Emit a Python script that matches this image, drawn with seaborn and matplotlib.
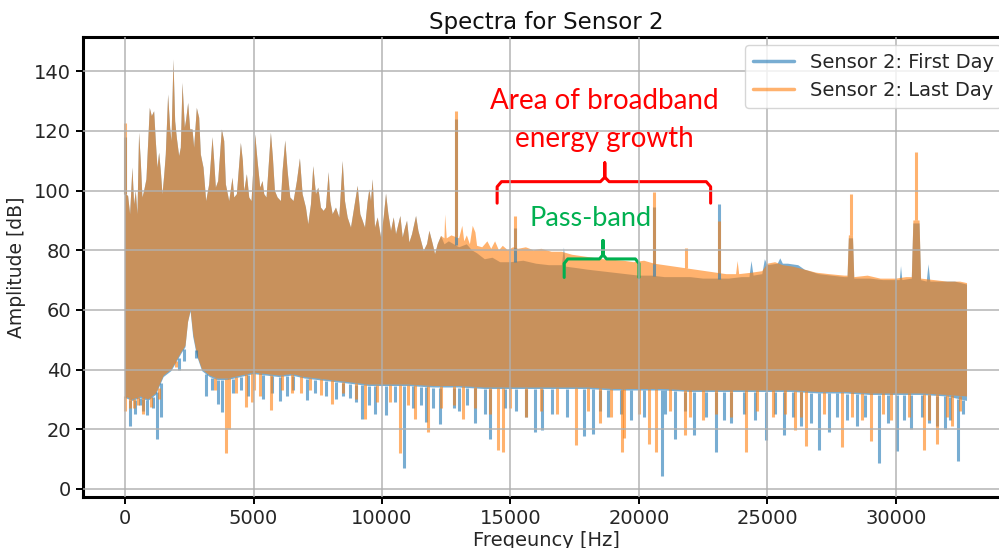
import numpy as np
import pandas as pd
import seaborn as sns
import matplotlib
matplotlib.use('Agg')
import matplotlib.pyplot as plt
from matplotlib.lines import Line2D

# ---- values ----
# upper edge of the band below ~12.4 kHz (both days nearly identical)
low_top_freq = [0, 26, 117, 195, 286, 351, 416, 481, 545, 610,
                675, 740, 831, 961, 1039, 1130, 1195, 1260, 1325, 1390,
                1455, 1520, 1584, 1675, 1753, 1805, 1883, 1948, 2013, 2104,
                2169, 2234, 2325, 2377, 2455, 2532, 2623, 2688, 2792, 2883,
                2948, 3052, 3156, 3273, 3403, 3468, 3532, 3623, 3766, 3857,
                3922, 4052, 4182, 4247, 4351, 4506, 4584, 4636, 4740, 4831,
                4922, 5065, 5156, 5260, 5351, 5416, 5506, 5675, 5753, 5831,
                5935, 6065, 6130, 6234, 6325, 6429, 6558, 6688, 6805, 6909,
                7039, 7130, 7234, 7325, 7429, 7519, 7623, 7727, 7818, 7922,
                7987, 8078, 8208, 8338, 8468, 8558, 8662, 8792, 8896, 9052,
                9156, 9247, 9338, 9442, 9506, 9571, 9636, 9727, 9831, 9961,
                10065, 10156, 10247, 10351, 10455, 10545, 10636, 10714, 10805, 10896,
                10974, 11065, 11169, 11325, 11416, 11519, 11623, 11753, 11844, 11974,
                12065, 12169, 12299]
low_top_amp = [98.8, 98.8, 98.2, 92.1, 107.7, 95.4, 99.9, 92.1, 119.4, 109.9,
               97.7, 99.9, 103.8, 127.7, 125, 126.6, 116.6, 107.7, 112.7, 106.6,
               98.8, 104.9, 112.1, 132.2, 121.1, 116.6, 143.9, 123.3, 117.7, 111.6,
               114.4, 136.1, 121.1, 123.8, 129.4, 120.5, 120.5, 114.4, 127.7, 124.4,
               112.1, 107.7, 96.5, 102.1, 117.9, 109.9, 101, 103.2, 120.5, 116.6,
               102.1, 96.5, 104.3, 97.7, 98.8, 116.0, 109.9, 99.9, 105.5, 97.7,
               96.5, 118.8, 109.9, 101, 103.2, 98.8, 97.7, 119.4, 111, 99.9,
               97.7, 96.5, 106.6, 116.8, 106.6, 97.7, 96.5, 103.2, 110.8, 98.8,
               94.3, 88.7, 95.4, 108.2, 98.8, 101, 94.3, 93.2, 94.3, 106.2,
               96.5, 92.1, 94.3, 91, 109.9, 96.5, 91, 87.6, 93.2, 101.6,
               92.1, 89.9, 87.6, 96.5, 100.4, 96.5, 103.8, 87.6, 91, 84.3,
               91, 99, 92.1, 86.5, 91, 85.4, 88.7, 91.5, 84.3, 87.6,
               89.9, 82.6, 85.4, 91.5, 86.5, 83.2, 79.8, 82.1, 86.5, 82.1,
               78.7, 82.1, 84.8]

# upper edge above 12.4 kHz, per day
first_top_freq = [12430, 12600, 12800, 13000, 13300, 13500, 13700, 14000, 14300, 14600,
                  15000, 15500, 16000, 16500, 17000, 17080, 17160, 17600, 18000, 18500,
                  19000, 19500, 20000, 20500, 21000, 21500, 22000, 22500, 23000, 23500,
                  24000, 24300, 24380, 24460, 24800, 24900, 25000, 25400, 25500, 25600,
                  25800, 26200, 26450, 27000, 27500, 28000, 28120, 28170, 28330, 28380,
                  28500, 29000, 29500, 30000, 30150, 30200, 30250, 30620, 30680, 30920,
                  30980, 31200, 31270, 31340, 31800, 32300, 32768]
first_top_amp = [82, 83, 82, 81, 82, 80, 79, 77, 77.5, 76,
                 76, 76.5, 75.5, 75, 75, 80.9, 74.5, 74, 73.5, 73,
                 72.5, 72, 71.5, 71.5, 71, 71, 71, 70.5, 70.5, 70.5,
                 71, 71, 76.4, 71.5, 72, 77, 75, 75.5, 77.3, 75.5,
                 75.5, 75, 73.5, 72, 71.5, 71, 71, 84, 84, 70.5,
                 70.5, 70.5, 70, 70, 70, 74.7, 70, 70.5, 89, 89,
                 70, 69.5, 75.3, 69.5, 69.5, 69.5, 68.5]
last_top_freq = [12430, 12456, 12520, 12700, 13000, 13125, 13200, 13300, 13420, 13530,
                 13634, 13700, 13900, 14100, 14250, 14400, 14550, 14700, 14900, 15100,
                 15300, 15600, 15900, 16200, 16600, 17000, 17400, 17800, 18200, 18600,
                 19000, 19400, 19800, 20200, 20600, 21000, 21400, 21800, 22200, 22600,
                 23000, 23400, 23780, 23840, 23900, 24400, 24800, 25000, 25300, 25600,
                 26000, 26450, 26900, 27400, 28000, 28120, 28170, 28330, 28380, 28900,
                 29400, 30000, 30400, 30620, 30680, 30920, 30980, 31500, 32000, 32500,
                 32768]
last_top_amp = [84, 92, 84, 85, 84, 88.2, 83, 85, 82, 88.2,
                86, 81.5, 81, 83, 80.5, 83, 80, 81.5, 80, 81,
                80.5, 81, 80, 80.5, 79.5, 79.5, 78.5, 78, 77.5, 77,
                76.8, 76.5, 76, 76.5, 75.5, 75, 74.5, 74, 73.5, 73,
                72.5, 72, 72, 76.4, 72, 72.5, 73, 75.5, 76, 75,
                74.5, 73.5, 72.5, 72, 71.5, 71.5, 85, 85, 71, 71.5,
                70.5, 70.5, 71, 71, 90, 90, 70.5, 70, 69.5, 69.5,
                69]

# lower edge of the band
bottom_freq = [0, 300, 600, 900, 1200, 1500, 1800, 2000, 2200, 2350,
               2450, 2550, 2650, 2800, 3000, 3300, 3600, 4000, 4500, 5000,
               5500, 6000, 6500, 7000, 7500, 8000, 8500, 9000, 9500, 10000,
               11000, 12000, 13000, 14000, 15000, 16000, 17000, 18000, 19000, 20000,
               21000, 22000, 23000, 24000, 25000, 26000, 27000, 28000, 29000, 30000,
               31000, 32000, 32768]
first_bottom = [30.5, 29.5, 30.5, 29.5, 31.5, 37.5, 39.5, 42.5, 45.5, 47.5,
                56, 59.5, 51, 44.5, 39.5, 37.5, 36.5, 36.5, 37.5, 38.5,
                38, 37.5, 38, 37, 36.5, 36, 35.5, 35, 34.5, 34.5,
                34.5, 34, 34, 33.5, 33.5, 33.5, 33.5, 33.5, 33, 33,
                33, 32.5, 32.5, 32.5, 32.5, 32.5, 32, 32, 31.5, 31.5,
                31.5, 31, 29.5]
last_bottom = [31, 30, 31, 30, 32, 38, 40, 43, 46, 48,
               56, 60, 52, 45, 40, 38, 37, 37, 38, 39,
               38.5, 38, 38.5, 37.5, 37, 36.5, 36, 35.5, 35, 35,
               35, 34.5, 34.5, 34, 34, 34, 34, 34, 33.5, 33.5,
               33.5, 33, 33, 33, 33, 33, 32.5, 32.5, 32, 32,
               32, 31.5, 31]

# thin tall lines sticking out of the band
first_spike_freq = [0, 12870, 15175, 20580, 23130]
first_spike_amp = [118, 124, 87.6, 94.4, 95.5]
last_spike_freq = [0, 12870, 15175, 20580, 21850, 23130, 28270, 30800]
last_spike_amp = [122.7, 126.8, 91.6, 99.4, 80.9, 89.9, 98.8, 112.8]

# dips below the band
first_dip_freq = [195, 400, 583, 840, 1256, 1400, 3134, 3626, 3755, 4200,
                  5374, 6022, 6540, 7084, 8223, 8741, 9234, 9713, 10166, 10852,
                  11200, 11694, 12240, 12800, 13636, 14206, 14800, 15935, 16220, 17880,
                  18200, 18800, 19700, 20900, 21390, 22150, 22990, 23600, 24960, 25640,
                  26300, 27020, 27400, 28500, 29350, 30030, 30600, 31300, 31900, 32400,
                  700, 1100, 2100, 2300, 2750, 3400, 4500, 4800, 5700, 6300,
                  7400, 7800, 8500, 9000, 9500, 10500, 11500, 12000, 13000, 13300,
                  14000, 15200, 15600, 16600, 17200, 18500, 19300, 20200, 21000, 21800,
                  22600, 23300, 24100, 24500, 25300, 26000, 26700, 27700, 28100, 28800,
                  29700, 30300, 31000, 31600, 32100, 32600]
first_dip_amp = [21, 25, 28, 24.7, 16.9, 24, 31.3, 28.6, 25.8, 32,
                 30.2, 29.5, 33, 29.7, 30, 30.5, 23.6, 25.2, 24.7, 6.9,
                 27, 22.4, 21.9, 27, 22, 16.9, 27, 19.1, 19.7, 17.7,
                 18.5, 24, 23, 4.5, 16.9, 18, 12.4, 22, 16.3, 18.2,
                 21, 13.2, 19, 21, 8.8, 12.7, 20, 22, 20, 9.3,
                 26, 27, 40, 43, 44, 33, 33, 31, 32, 31,
                 32, 31, 31, 29, 28, 29, 28, 27, 26, 28,
                 25, 26, 24, 25, 24, 26, 25, 24, 25, 26,
                 24, 23, 25, 23, 25, 24, 22, 24, 23, 24,
                 22, 23, 24, 21, 23, 25]
last_dip_freq = [0, 330, 700, 1000, 3911, 4053, 4688, 4921, 5245, 5660,
                 6864, 7640, 8055, 9324, 10684, 11292, 11785, 13143, 14500, 14700,
                 15600, 17560, 18500, 19340, 19400, 20380, 20680, 21780, 22500, 24150,
                 25200, 26070, 26500, 27890, 29030, 29800, 31090, 31610, 32200,
                 200, 500, 1300, 2000, 3500, 4300, 5000, 6100, 6500, 7200,
                 8500, 9000, 9800, 10300, 11000, 12300, 12800, 13600, 14200, 15000,
                 16200, 16800, 18000, 18900, 20000, 21200, 22000, 23000, 23600, 24600,
                 25700, 26300, 27200, 28300, 28700, 29500, 30500, 31300, 32000, 32500]
last_dip_amp = [26, 27, 25, 27.4, 12, 20.2, 27.4, 29, 31, 26.3,
                32, 31.5, 28.6, 23.6, 11.9, 23.3, 19.1, 23.6, 13, 12.4,
                24, 14.7, 22, 12.4, 17, 15.2, 12.4, 18, 23, 12.4,
                24, 19.9, 14.3, 13.9, 16, 23, 13, 15.2, 21,
                27, 28, 30, 41, 33, 32, 33, 33, 32, 33,
                32, 30, 29, 29, 28, 27, 28, 27, 25, 27,
                26, 25, 26, 24, 25, 26, 24, 25, 24, 26,
                25, 24, 25, 24, 23, 25, 24, 23, 24, 26]

labels = ['Sensor 2: First Day', 'Sensor 2: Last Day']
colors = ['#1f77b4', '#ff7f0e']


def sticks(top_f, top_a, bot_a, spike_f, spike_a, dip_f, dip_a):
    # every spike / dip is a short vertical segment starting on the band edge
    rows = []
    unit = 0
    base = np.interp(spike_f, top_f, top_a)
    for f, b, a in zip(spike_f, base, spike_a):
        rows += [(unit, f, b), (unit, f, a)]
        unit += 1
    base = np.interp(dip_f, bottom_freq, bot_a)
    for f, b, a in zip(dip_f, base, dip_a):
        rows += [(unit, f, b), (unit, f, a)]
        unit += 1
    return pd.DataFrame(rows, columns=['unit', 'freq', 'amp'])


sns.set_theme(style='ticks')
plt.rcParams['font.family'] = ['DejaVu Sans']

fig = plt.figure(figsize=(9.99, 5.48), dpi=100)
ax = fig.add_axes([0.0831, 0.0931, 0.927, 0.8394])

series = [
    (first_top_freq, first_top_amp, first_bottom, first_spike_freq, first_spike_amp,
     first_dip_freq, first_dip_amp),
    (last_top_freq, last_top_amp, last_bottom, last_spike_freq, last_spike_amp,
     last_dip_freq, last_dip_amp),
]
for (tf, ta, bot, sf, sa, dfq, da), c in zip(series, colors):
    top_f = low_top_freq + tf
    top_a = low_top_amp + ta
    ax.fill(top_f + bottom_freq[::-1], top_a + bot[::-1], color=c, alpha=0.6, lw=0)
    st = sticks(top_f, top_a, bot, sf, sa, dfq, da)
    sns.lineplot(data=st, x='freq', y='amp', units='unit', estimator=None, sort=False,
                 color=c, alpha=0.6, lw=2.2, solid_capstyle='butt', ax=ax)

ax.set_xlim(-1638, 34406)
ax.set_ylim(-2.7, 151.5)
ax.set_xticks([0, 5000, 10000, 15000, 20000, 25000, 30000])
ax.set_yticks([0, 20, 40, 60, 80, 100, 120, 140])
ax.set_axisbelow(False)
ax.grid(True, color='#b0b0b0', lw=1.3, alpha=0.8)
for s in ax.spines.values():
    s.set_linewidth(2.2)
    s.set_color('black')
ax.tick_params(labelsize=14, length=5, width=1.4, color='black', labelcolor='#262626')

ax.set_title('Spectra for Sensor 2', fontsize=16.5, color='#111111', pad=6)
ax.set_xlabel('Freqeuncy [Hz]', fontsize=14, color='#262626', labelpad=2)
ax.set_ylabel('Amplitude [dB]', fontsize=13.5, color='#262626', labelpad=6)

handles = [Line2D([], [], color=c, alpha=0.6, lw=2.5) for c in colors]
ax.legend(handles, labels, loc='upper right', fontsize=14, framealpha=0.8,
          edgecolor='#cccccc', handlelength=2.1, borderaxespad=0.4)

# annotations drawn on top of the spectrum
red = '#ff0000'
green = '#00b050'
ax.text(18670, 123.7, 'Area of broadband\nenergy growth', color=red, fontsize=20,
        family='Lato', ha='center', va='center', linespacing=1.55)
bx = [14480, 14480, 14650, 18500, 18670, 18670, 18670, 18840, 22620, 22790, 22790]
by = [95.8, 101.3, 103, 103, 104.5, 109.3, 104.5, 103, 103, 101.3, 95.8]
ax.plot(bx, by, color=red, lw=2.2, solid_joinstyle='round')

ax.text(18130, 90.8, 'Pass-band', color=green, fontsize=19.5, family='Lato',
        ha='center', va='center')
gx = [17090, 17090, 17230, 18460, 18600, 18600, 18600, 18740, 19860, 20000, 20000]
gy = [70.9, 75.6, 77.1, 77.1, 78.5, 83.3, 78.5, 77.1, 77.1, 75.6, 70.9]
ax.plot(gx, gy, color=green, lw=2.2, solid_joinstyle='round')

fig.savefig('out.png', dpi=100)
